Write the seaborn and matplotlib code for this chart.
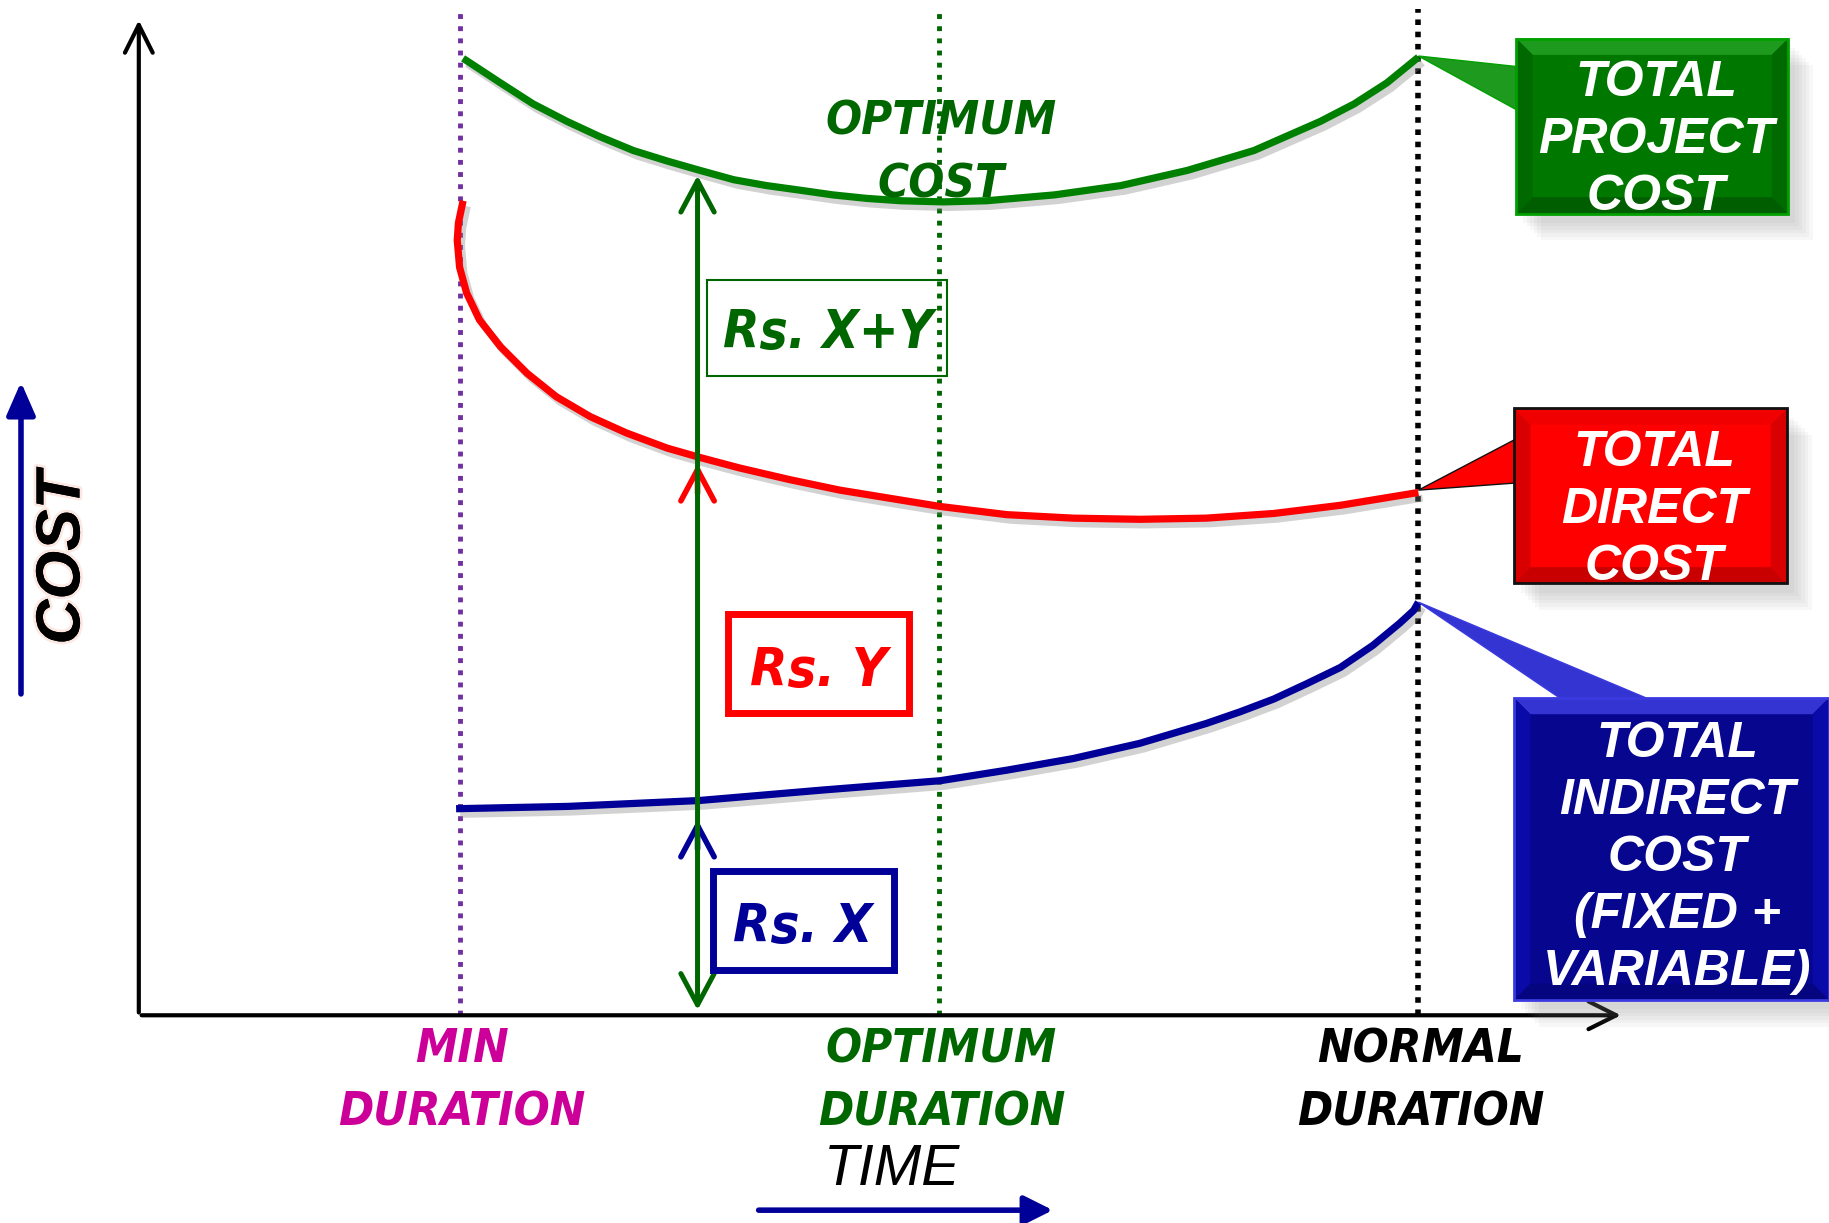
import numpy as np
import pandas as pd
import seaborn as sns
import matplotlib.pyplot as plt
from matplotlib import font_manager as fm
from matplotlib.font_manager import FontProperties
from matplotlib.patches import Rectangle, Polygon
import matplotlib.patheffects as pe

# curves in (time, cost) units
project_time = [278, 310, 338, 367, 395, 424, 453, 481, 510, 538, 567, 595, 624, 653, 690,
                727, 785, 842, 899, 956, 1013, 1042, 1070, 1097]
project_cost = [820, 799, 781, 766, 753, 741, 732, 724, 716, 711, 707, 703, 700, 698, 697,
                698, 703, 711, 724, 741, 766, 781, 799, 821]

direct_time = [278, 274, 273, 275, 281, 292, 310, 333, 358, 387, 418, 453, 481, 515, 558, 601, 644,
               687, 744, 801, 858, 915, 973, 1030, 1097]
direct_cost = [698, 679, 664, 641, 619, 596, 573, 550, 530, 513, 499, 486, 478, 469, 459, 450, 443,
               436, 429, 426, 425, 426, 430, 437, 448]

indirect_time = [272, 368, 480, 586, 687, 744, 801, 858, 915, 944, 973, 1001, 1030, 1058, 1081, 1093, 1097]
indirect_cost = [177, 179, 184, 193, 201, 210, 220, 233, 250, 260, 271, 284, 298, 317, 336, 347, 354]

durations = [275, 686, 1097]
duration_labels = ["MIN\nDURATION", "OPTIMUM\nDURATION", "NORMAL\nDURATION"]
duration_text_colors = ["#CC0099", "#006600", "#000000"]
duration_line_colors = ["#7030A0", "#006600", "#000000"]
duration_line_widths = [3.5, 3.5, 4.0]
duration_dash_gaps = [1.5, 1.5, 1.2]

# the measuring arrow
arrow_time = 479
arrow_total = 722
arrow_direct = 475
arrow_indirect = 170

GREEN = "#008000"
DKGREEN = "#006600"
RED = "#FF0000"
BLUE = "#000099"

sns.set_theme(style="white")
plt.rcParams["font.family"] = ["Liberation Sans", "DejaVu Sans"]


# look for an installed condensed bold italic face, otherwise shrink Liberation Sans
def find_condensed():
    best, best_score = None, 1e9
    for f in fm.fontManager.ttflist:
        st = f.stretch if isinstance(f.stretch, (int, float)) else fm.stretch_dict.get(f.stretch, 500)
        low = (f.name + " " + f.fname).lower()
        if not (st < 500 or "narrow" in low or "condensed" in low):
            continue
        if "extracondensed" in low.replace("-", "").replace(" ", ""):
            continue
        w = f.weight if isinstance(f.weight, (int, float)) else fm.weight_dict.get(f.weight, 400)
        score = abs(w - 700) / 100 + (0 if f.style in ("italic", "oblique") else 5) \
            + (0 if "sans" in low else 2) + (0 if "cjk" not in low else 10)
        if score < best_score:
            best, best_score = f, score
    return best


cond = find_condensed()


def cond_font(size):
    if cond is not None:
        return FontProperties(fname=cond.fname, size=size)
    return FontProperties(family="Liberation Sans", weight="bold", style="italic", size=size * 0.95)


fig = plt.figure(figsize=(18.29, 12.23), dpi=100)
ax = fig.add_axes([0, 0, 1, 1])
XL, YL = (-119, 1449), (-178, 870)
ax.set_xlim(*XL)
ax.set_ylim(*YL)
ax.axis("off")
PX = 1829 / (XL[1] - XL[0])  # pixels per data unit


def label(x, y, s, prop, color, step_pt, zorder=7, **kw):
    # one real text per line, lines centred on (x, y)
    size = prop.get_size_in_points()
    cap = 0.716 * size * fig.dpi / 72 / PX
    step = step_pt * fig.dpi / 72 / PX
    lines = s.split("\n")
    n = len(lines)
    for i, line in enumerate(lines):
        yy = y + ((n - 1) / 2 - i) * step - cap / 2
        ax.text(x, yy, line, fontproperties=prop, color=color, ha="center", va="baseline", zorder=zorder, **kw)


def bevel_box(x0, y0, w, h, b, base, top, side, bottom, edge):
    x1, y1 = x0 + w, y0 + h
    ax.add_patch(Rectangle((x0, y0), w, h, facecolor=base, edgecolor="none", zorder=8))
    ax.add_patch(Polygon([(x0, y1), (x1, y1), (x1 - b, y1 - b), (x0 + b, y1 - b)], facecolor=top, edgecolor="none", zorder=8))
    ax.add_patch(Polygon([(x0, y0), (x0, y1), (x0 + b, y1 - b), (x0 + b, y0 + b)], facecolor=side, edgecolor="none", zorder=8))
    ax.add_patch(Polygon([(x1, y0), (x1, y1), (x1 - b, y1 - b), (x1 - b, y0 + b)], facecolor=side, edgecolor="none", zorder=8))
    ax.add_patch(Polygon([(x0, y0), (x1, y0), (x1 - b, y0 + b), (x0 + b, y0 + b)], facecolor=bottom, edgecolor="none", zorder=8))
    ax.add_patch(Rectangle((x0, y0), w, h, facecolor="none", edgecolor=edge, lw=2, zorder=8))


shadow = [pe.SimpleLineShadow(offset=(3, -4), alpha=0.35, shadow_color="gray"), pe.Normal()]

# vertical duration lines
for t, c, w, g in zip(durations, duration_line_colors, duration_line_widths, duration_dash_gaps):
    ax.plot([t, t], [0, 862], color=c, lw=w, ls=(0, (1, g)), zorder=1)

# curves
df_p = pd.DataFrame({"time": project_time, "cost": project_cost})
df_d = pd.DataFrame({"time": direct_time, "cost": direct_cost})
df_i = pd.DataFrame({"time": indirect_time, "cost": indirect_cost})
for d, col in [(df_p, GREEN), (df_d, RED), (df_i, BLUE)]:
    sns.lineplot(data=d, x="time", y="cost", sort=False, estimator=None, color=col,
                 lw=5.2, ax=ax, zorder=3, path_effects=shadow, solid_joinstyle="round", solid_capstyle="butt")

# axes arrows
ax.annotate("", xy=(0, 855), xytext=(0, 0),
            arrowprops=dict(arrowstyle="->,head_length=0.8,head_width=0.4", mutation_scale=25, lw=3, color="black"))
ax.annotate("", xy=(1273, 0), xytext=(0, 0),
            arrowprops=dict(arrowstyle="->,head_length=0.8,head_width=0.4", mutation_scale=25, lw=3, color="black"))

# chevrons on red and blue curves, then the green double arrow on top
for c, col in [(arrow_direct, RED), (arrow_indirect, BLUE)]:
    ax.annotate("", xy=(arrow_time, c), xytext=(arrow_time, c - 30),
                arrowprops=dict(arrowstyle="->,head_length=0.75,head_width=0.4", mutation_scale=30, lw=4, color=col),
                zorder=4)
ax.annotate("", xy=(arrow_time, arrow_total), xytext=(arrow_time, 2),
            arrowprops=dict(arrowstyle="<->,head_length=0.75,head_width=0.4", mutation_scale=30, lw=3.6, color=DKGREEN),
            zorder=5)

# labelled boxes along the arrow
boxes = [("Rs. X+Y", DKGREEN, 487, 548, 206, 82, 1.5, (591, 588), 38),
         ("Rs. Y", RED, 505, 259, 155, 85, 5, (583, 299), 39),
         ("Rs. X", BLUE, 492, 39, 155, 85, 5, (569, 79), 39)]
for txt, col, x0, y0, w, h, lw, (tx, ty), fs in boxes:
    ax.add_patch(Rectangle((x0, y0), w, h, facecolor="none", edgecolor=col, lw=lw, zorder=6))
    label(tx, ty, txt, cond_font(fs), col, 0)

label(688, 742, "OPTIMUM\nCOST", cond_font(34), DKGREEN, 45.4, zorder=4)

# duration labels
for t, lab, col in zip(durations, duration_labels, duration_text_colors):
    label(t + 2, -53, lab, cond_font(34), col, 45.4)

ax.text(646, -133, "TIME", color="black", fontsize=41, fontstyle="italic", ha="center", va="center")
ax.annotate("", xy=(786, -167), xytext=(529, -167),
            arrowprops=dict(arrowstyle="-|>,head_length=0.7,head_width=0.35", mutation_scale=25, lw=4, color=BLUE))

ax.text(-65, 392, "COST", color="black", fontsize=45, fontweight="bold", fontstyle="italic", rotation=90,
        ha="center", va="center",
        path_effects=[pe.withStroke(linewidth=4, foreground="#FBE8E2"), pe.Normal()])
ax.annotate("", xy=(-101, 545), xytext=(-101, 273),
            arrowprops=dict(arrowstyle="-|>,head_length=0.8,head_width=0.35", mutation_scale=25, lw=4, color=BLUE))

# callouts: text, base, top bevel, side bevel, bottom bevel, edge
callouts = [("TOTAL\nPROJECT\nCOST", ("#007800", "#1E9A1E", "#006A00", "#005E00", "#00A000"),
             (1181, 687, 233, 150), (1301, 754), [(1097, 822), (1181, 813), (1181, 776)]),
            ("TOTAL\nDIRECT\nCOST", ("#FF0000", "#F00000", "#D80000", "#C80000", "#111111"),
             (1179, 370, 234, 150), (1299, 437), [(1097, 450), (1179, 493), (1179, 456)]),
            ("TOTAL\nINDIRECT\nCOST\n(FIXED +\nVARIABLE)", ("#06068F", "#3434D2", "#0A0AA8", "#050580", "#3A3AE0"),
             (1179, 13, 270, 259), (1319, 139), [(1097, 354), (1218, 272), (1292, 272)])]
callout_font = FontProperties(family="Liberation Sans", weight="bold", style="italic", size=36)
for txt, (base, top, side, bottom, edge), (x0, y0, w, h), (tx, ty), tri in callouts:
    for k in range(6):
        ax.add_patch(Rectangle((x0 + 6 + 3 * k, y0 - 8 - 3 * k), w, h, facecolor="gray", alpha=0.06,
                               edgecolor="none", zorder=7))
    ax.add_patch(Polygon(tri, closed=True, facecolor=top if base != "#FF0000" else base,
                         edgecolor=edge, lw=1, zorder=8))
    bevel_box(x0, y0, w, h, 14, base, top, side, bottom, edge)
    label(tx, ty, txt, callout_font, "white", 41, zorder=9)

ax.set_xlim(*XL)
ax.set_ylim(*YL)
fig.savefig("out.png", dpi=100)
